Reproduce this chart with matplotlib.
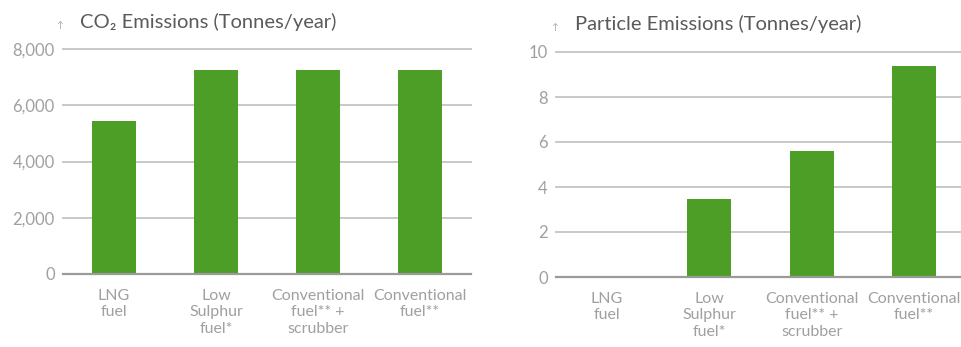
import matplotlib
matplotlib.use("Agg")
import matplotlib.pyplot as plt

categories = ["LNG\nfuel", "Low\nSulphur\nfuel*", "Conventional\nfuel** +\nscrubber", "Conventional\nfuel**"]
co2_values = [5450, 7250, 7250, 7250]
particle_values = [0.05, 3.45, 5.6, 9.4]
co2_ticks = [0, 2000, 4000, 6000, 8000]
co2_ticklabels = ["0", "2,000", "4,000", "6,000", "8,000"]
particle_ticks = [0, 2, 4, 6, 8, 10]
particle_ticklabels = ["0", "2", "4", "6", "8", "10"]

plt.rcParams['font.family'] = ['Lato', 'DejaVu Sans']

W, H = 962, 347
fig = plt.figure(figsize=(W / 100, H / 100), dpi=100)

GREEN = "#4d9e27"
GRID = "#c8c8c8"
ZERO = "#9a9a9a"
TICK = "#a0a0a0"
TITLE = "#5a5a5a"

def px(x0, y0, x1, y1):
    return [x0 / W, 1 - y1 / H, (x1 - x0) / W, (y1 - y0) / H]

def setup(ax, values, ticks, ticklabels):
    x = list(range(len(categories)))
    ax.bar(x, values, width=0.43, color=GREEN, zorder=3)
    ax.set_xlim(-0.5, len(categories) - 0.5)
    ax.set_ylim(0, ticks[-1])
    ax.set_yticks(ticks)
    ax.set_yticklabels(ticklabels)
    ax.set_xticks(x)
    ax.set_xticklabels(categories, linespacing=1.25)
    for t in ticks[1:]:
        ax.axhline(t, color=GRID, lw=1.4, zorder=1, clip_on=False)
    ax.axhline(0, color=ZERO, lw=1.6, zorder=4, clip_on=False)
    for s in ax.spines.values():
        s.set_visible(False)
    ax.tick_params(axis='y', length=0, colors=TICK, labelsize=12, pad=6)
    ax.tick_params(axis='x', length=0, colors=TICK, labelsize=11.5, pad=10.5)

ax1 = fig.add_axes(px(63, 49, 471, 274))
setup(ax1, co2_values, co2_ticks, co2_ticklabels)

ax2 = fig.add_axes(px(556, 52, 965, 277))
setup(ax2, particle_values, particle_ticks, particle_ticklabels)

fig.text(60 / W, 1 - 25 / H, "\u2191", fontsize=6.5, color=TICK, va='center', ha='center')
fig.text(80 / W, 1 - 22 / H, "CO\u2082 Emissions (Tonnes/year)", fontsize=14.5, color=TITLE, va='center', ha='left')
fig.text(555 / W, 1 - 27 / H, "\u2191", fontsize=6.5, color=TICK, va='center', ha='center')
fig.text(575 / W, 1 - 24 / H, "Particle Emissions (Tonnes/year)", fontsize=14.5, color=TITLE, va='center', ha='left')

fig.savefig("out.png", dpi=100, facecolor="white")
